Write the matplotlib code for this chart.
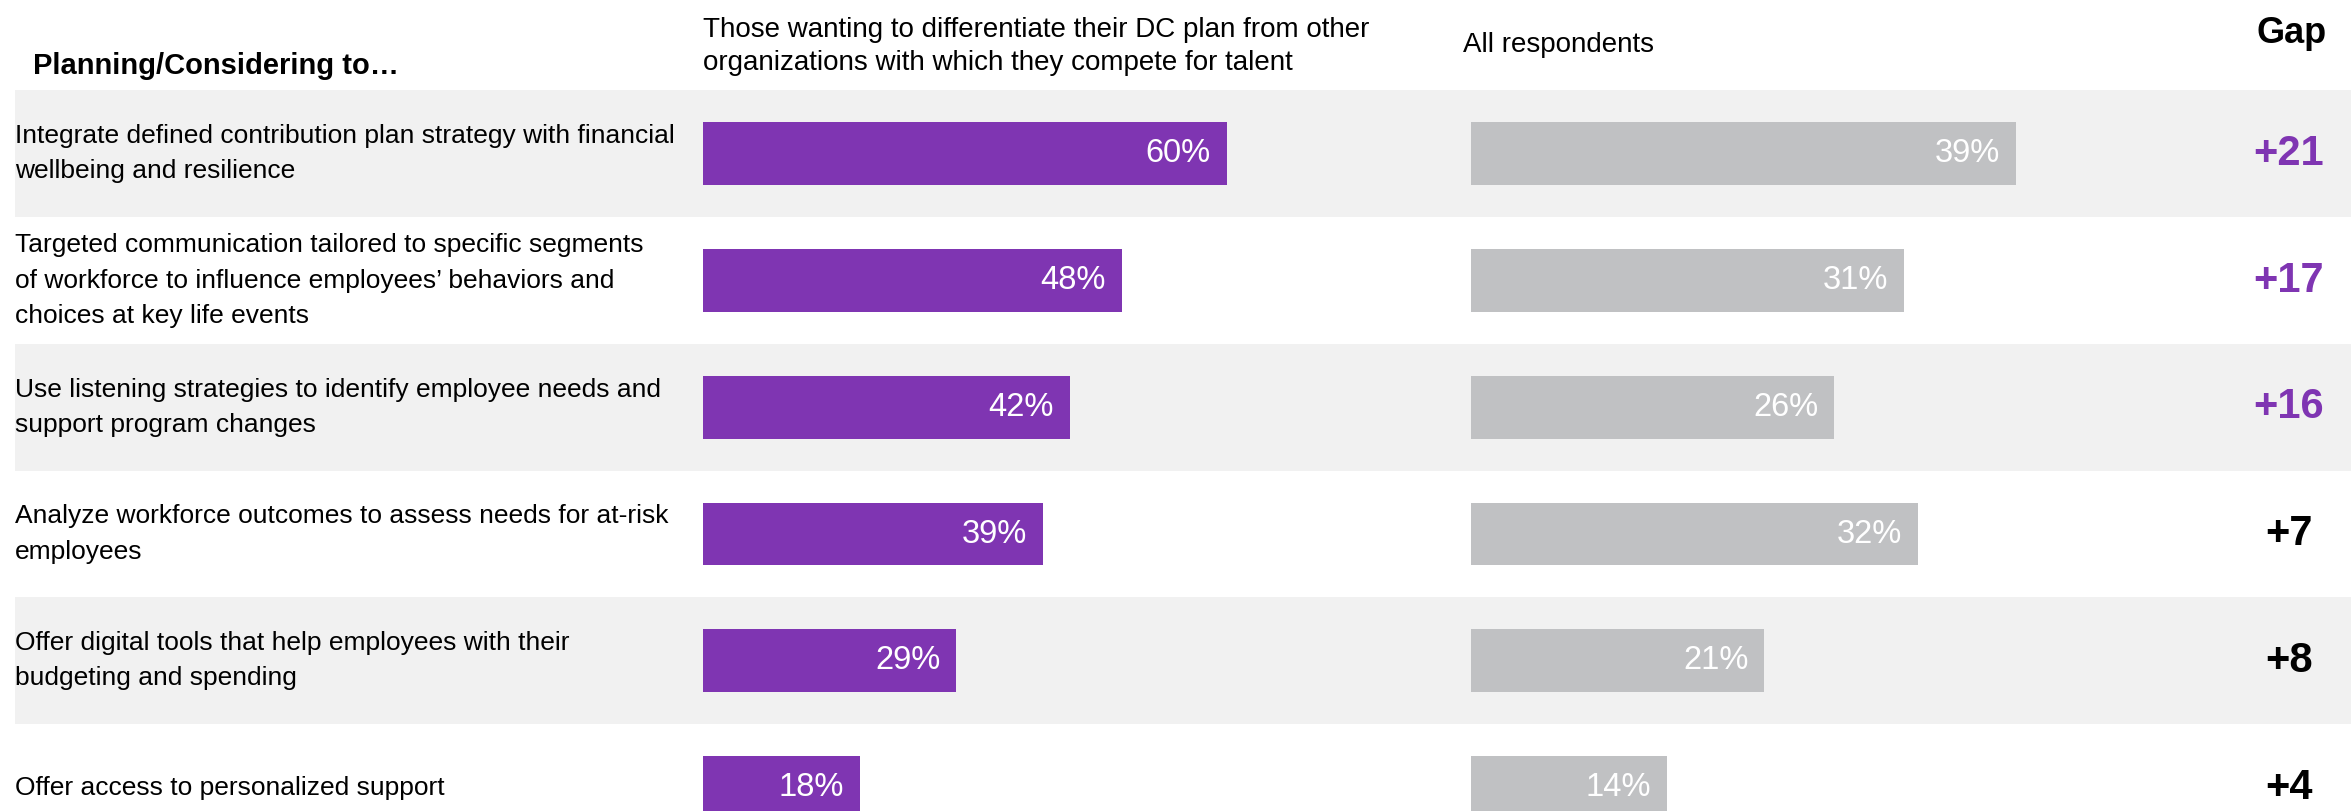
import matplotlib
matplotlib.use("Agg")
import matplotlib.pyplot as plt
from matplotlib.patches import Rectangle

plt.rcParams['font.family'] = ['Liberation Sans', 'DejaVu Sans']

# data
items = [
    "Integrate defined contribution plan strategy with financial\nwellbeing and resilience",
    "Targeted communication tailored to specific segments\nof workforce to influence employees\u2019 behaviors and\nchoices at key life events",
    "Use listening strategies to identify employee needs and\nsupport program changes",
    "Analyze workforce outcomes to assess needs for at-risk\nemployees",
    "Offer digital tools that help employees with their\nbudgeting and spending",
    "Offer access to personalized support",
]
differentiators = [60, 48, 42, 39, 29, 18]
all_respondents = [39, 31, 26, 32, 21, 14]
gaps = [d - a for d, a in zip(differentiators, all_respondents)]

PURPLE = "#7F35B2"
GREY_BAR = "#C0C1C3"
BAND = "#F1F1F1"

W, H = 2351, 811
ROW_PITCH = 126.75      # px per row
FIRST_ROW = 153.75      # px from top to centre of first row

fig = plt.figure(figsize=(W / 100, H / 100), dpi=100)

# y in row units, 0 at top row
y_top = -FIRST_ROW / ROW_PITCH
y_bot = (H - FIRST_ROW) / ROW_PITCH

base = fig.add_axes([0, 0, 1, 1])
base.set_xlim(0, W)
base.set_ylim(y_bot, y_top)
base.axis("off")

# alternating row shading
for i in range(len(items)):
    if i % 2 == 0:
        base.add_patch(Rectangle((15, i - 0.5), W, 1.0, color=BAND, lw=0, zorder=0))

# row labels
for i, label in enumerate(items):
    base.text(15, i, label, fontsize=19, va="center", ha="left",
              linespacing=1.58, color="black")

# gap column
for i, g in enumerate(gaps):
    base.text(2289, i, f"+{g}", fontsize=30, fontweight="bold", ha="center",
              va="center", color=PURPLE if g > 10 else "black")

# headers
hy = lambda px: (px - FIRST_ROW) / ROW_PITCH
base.text(33, hy(74), "Planning/Considering to\u2026", fontsize=21,
          fontweight="bold", va="baseline")
base.text(703, hy(46), "Those wanting to differentiate their DC plan from other\n"
          "organizations with which they compete for talent",
          fontsize=20, va="center", linespacing=1.35)
base.text(1463, hy(52), "All respondents", fontsize=20, va="baseline")
base.text(2292, hy(43), "Gap", fontsize=26, fontweight="bold", ha="center",
          va="baseline")


def bar_axes(left_px, px_per_pct):
    ax = fig.add_axes([left_px / W, 0, 100 * px_per_pct / W, 1])
    ax.set_xlim(0, 100)
    ax.set_ylim(y_bot, y_top)
    ax.axis("off")
    ax.patch.set_alpha(0)
    return ax


ax1 = bar_axes(703, 8.73)
ax2 = bar_axes(1471, 13.97)

rows = list(range(len(items)))
for ax, vals, col in [(ax1, differentiators, PURPLE), (ax2, all_respondents, GREY_BAR)]:
    ax.barh(rows, vals, height=0.497, color=col, lw=0)
    for i, v in enumerate(vals):
        ax.annotate(f"{v}%", (v, i), xytext=(-11.5, 0), textcoords="offset points",
                    ha="right", va="center", fontsize=23.5, color="white")

fig.savefig("out.png", dpi=100)
